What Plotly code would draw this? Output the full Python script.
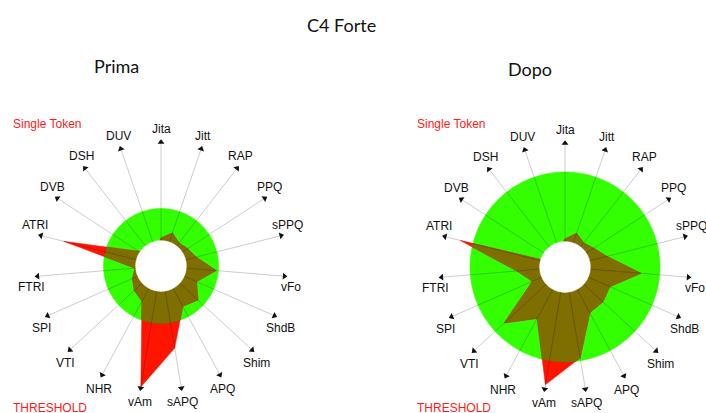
import numpy as np
import plotly.graph_objects as go

# ---------------- data ----------------
categories = ["Jita", "Jitt", "RAP", "PPQ", "sPPQ", "vFo", "ShdB", "Shim", "APQ", "sAPQ",
              "vAm", "NHR", "VTI", "SPI", "FTRI", "ATRI", "DVB", "DSH", "DUV"]
prima_values = [22, 27.5, 23, 25, 28.5, 43.5, 30.5, 39.5, 36, 65.5,
                96.5, 31.5, 28.5, 24.5, 20.5, 79, 21, 12, 12]
dopo_values = [22, 28, 24, 27, 34, 60, 38.5, 40.5, 41, 72.5,
               94, 46, 65, 28, 38, 85, 4, 12, 14]
prima_threshold = 45.3
dopo_threshold = 74.8

# ---------------- style ----------------
GREEN = "#33FF00"
RED = "#FF1400"
OLIVE = "#7F6E00"
HOLE = 20
W, H = 706, 413
RADIUS_PX = 127

title_font = "Lato, Open Sans, sans-serif"
label_font = "Liberation Sans, Arial, sans-serif"

fig = go.Figure()
annotations = []


def add_chart(values, threshold, subplot, cx, cy):
    n = len(categories)
    theta = [i * 360.0 / n for i in range(n)]
    circ = list(np.linspace(0, 360, 361))
    # threshold disc
    fig.add_trace(go.Scatterpolar(r=[threshold] * len(circ), theta=circ, mode="lines",
                                  fill="toself", fillcolor=GREEN, line=dict(color=GREEN, width=0.5),
                                  subplot=subplot, hoverinfo="skip"))
    # data polygon (red = above threshold)
    fig.add_trace(go.Scatterpolar(r=values + [values[0]], theta=theta + [theta[0]], mode="lines",
                                  fill="toself", fillcolor=RED, line=dict(color=RED, width=0.5),
                                  subplot=subplot, hoverinfo="skip"))
    # clipped polygon (olive = within threshold)
    rad = np.radians(theta)
    xs = np.array(values) * np.sin(rad)
    ys = np.array(values) * np.cos(rad)
    rr, tt = [], []
    for i in range(n):
        j = (i + 1) % n
        for t in np.linspace(0, 1, 80, endpoint=False):
            x = xs[i] + (xs[j] - xs[i]) * t
            y = ys[i] + (ys[j] - ys[i]) * t
            rr.append(min(float(np.hypot(x, y)), threshold))
            tt.append(float(np.degrees(np.arctan2(x, y)) % 360))
    rr.append(rr[0]); tt.append(tt[0])
    fig.add_trace(go.Scatterpolar(r=rr, theta=tt, mode="lines", fill="toself", fillcolor=OLIVE,
                                  line=dict(color=OLIVE, width=0.5), subplot=subplot, hoverinfo="skip"))
    # central hole
    fig.add_trace(go.Scatterpolar(r=[HOLE] * len(circ), theta=circ, mode="lines", fill="toself",
                                  fillcolor="white", line=dict(color="white", width=0.5),
                                  subplot=subplot, hoverinfo="skip"))
    # spokes
    sr, st = [], []
    for th in theta:
        sr += [HOLE, 98, None]
        st += [th, th, None]
    fig.add_trace(go.Scatterpolar(r=sr, theta=st, mode="lines",
                                  line=dict(color="rgba(0,0,0,0.25)", width=0.8),
                                  subplot=subplot, hoverinfo="skip"))
    # arrow heads
    fig.add_trace(go.Scatterpolar(r=[97.5] * n, theta=theta, mode="markers",
                                  marker=dict(symbol="triangle-up", size=6, angle=theta, color="#111111"),
                                  cliponaxis=False, subplot=subplot, hoverinfo="skip"))
    # category labels: just beyond each arrow tip, above it on the upper half, below on the lower half
    for name, th in zip(categories, theta):
        a = np.radians(th)
        tipx = cx + RADIUS_PX * np.sin(a)
        tipy = cy - RADIUS_PX * np.cos(a)
        lx = tipx + 3 * np.sin(a)
        ly = tipy + (-10 if np.cos(a) > 0 else 11)
        annotations.append(dict(text=name, x=lx / W, y=1 - ly / H, xref="paper", yref="paper",
                                showarrow=False, xanchor="center", yanchor="middle",
                                font=dict(size=12, color="#111111", family=label_font)))


CENTERS = {"polar": (161, 266), "polar2": (565, 267)}
add_chart(prima_values, prima_threshold, "polar", *CENTERS["polar"])
add_chart(dopo_values, dopo_threshold, "polar2", *CENTERS["polar2"])


def polar_cfg(cx, cy):
    R = RADIUS_PX
    return dict(domain=dict(x=[(cx - R) / W, (cx + R) / W], y=[(H - (cy + R)) / H, (H - (cy - R)) / H]),
                bgcolor="rgba(0,0,0,0)",
                radialaxis=dict(visible=False, range=[0, 100]),
                angularaxis=dict(visible=False, rotation=90, direction="clockwise"))


def ann(text, x, y, size, color, family, xanchor="center"):
    return dict(text=text, x=x / W, y=1 - y / H, xref="paper", yref="paper", showarrow=False,
                xanchor=xanchor, yanchor="middle", font=dict(size=size, color=color, family=family))


annotations += [
    ann("C4 Forte", 341, 25, 18, "#111111", title_font),
    ann("Prima", 116, 66, 18, "#111111", title_font),
    ann("Dopo", 530, 69, 18, "#111111", title_font),
    ann("Single Token", 11, 124, 12, "#FF1A1A", label_font, "left"),
    ann("Single Token", 415, 124, 12, "#FF1A1A", label_font, "left"),
    ann("THRESHOLD", 11, 408, 12, "#FF1A1A", label_font, "left"),
    ann("THRESHOLD", 415, 408, 12, "#FF1A1A", label_font, "left"),
]

fig.update_layout(
    width=W, height=H, margin=dict(l=0, r=0, t=0, b=0),
    paper_bgcolor="white", plot_bgcolor="white", showlegend=False,
    polar=polar_cfg(*CENTERS["polar"]), polar2=polar_cfg(*CENTERS["polar2"]),
    annotations=annotations,
)

fig.write_html("out.html")
